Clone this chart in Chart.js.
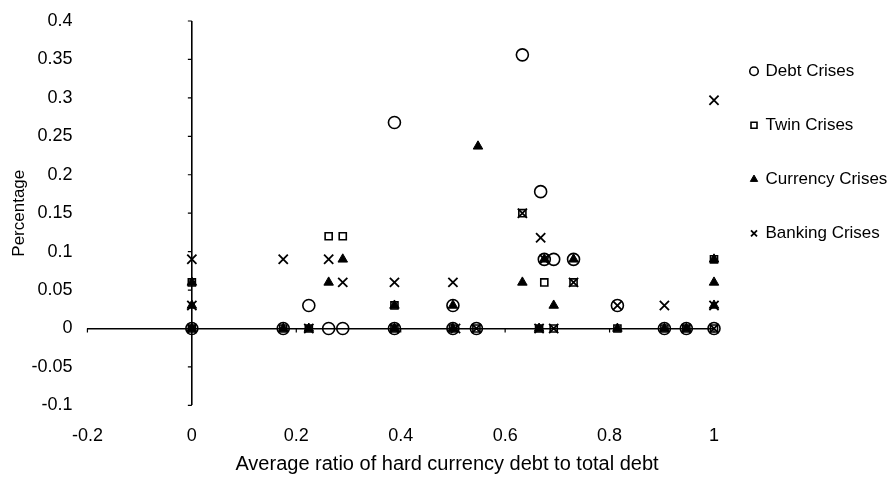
<!DOCTYPE html>
<html>
<head>
<meta charset="utf-8">
<title>Crises by hard currency debt ratio</title>
<script src="https://cdn.jsdelivr.net/npm/chart.js@4.4.1/dist/chart.umd.min.js"></script>
<style>
    body { margin: 0; background: #fff; }
    #wrap { width: 894px; height: 481px; }
</style>
</head>
<body>
<div id="wrap"><canvas id="crisesChart" width="894" height="481"></canvas></div>
<script>
// Data (x = average ratio of hard currency debt, y = share)
const debtX = [0, 0.175, 0.224, 0.262, 0.289, 0.388, 0.388, 0.50, 0.50, 0.545, 0.633, 0.668, 0.675, 0.693, 0.731, 0.815, 0.905, 0.947, 1.0];
const debtY = [0, 0, 0.03, 0, 0, 0.268, 0, 0.03, 0, 0, 0.356, 0.178, 0.09, 0.09, 0.09, 0.03, 0, 0, 0];

const twinX = [0, 0, 0.175, 0.224, 0.262, 0.289, 0.388, 0.388, 0.50, 0.545, 0.633, 0.675, 0.665, 0.693, 0.731, 0.815, 0.905, 0.947, 1.0, 1.0];
const twinY = [0.06, 0, 0, 0, 0.12, 0.12, 0.03, 0, 0, 0, 0.15, 0.06, 0, 0, 0.06, 0, 0, 0, 0.09, 0];

const currencyX = [0, 0, 0, 0.175, 0.224, 0.262, 0.289, 0.388, 0.388, 0.50, 0.50, 0.548, 0.633, 0.675, 0.665, 0.693, 0.731, 0.815, 0.905, 0.947, 1.0, 1.0, 1.0];
const currencyY = [0.06, 0.03, 0, 0, 0, 0.06, 0.09, 0.03, 0, 0.03, 0, 0.237, 0.06, 0.09, 0, 0.03, 0.09, 0, 0, 0, 0.09, 0.06, 0.03];

const bankingX = [0, 0, 0, 0.175, 0.224, 0.262, 0.289, 0.388, 0.388, 0.50, 0.505, 0.545, 0.633, 0.668, 0.675, 0.665, 0.693, 0.731, 0.815, 0.905, 0.947, 1.0, 1.0, 1.0];
const bankingY = [0.09, 0.03, 0, 0.09, 0, 0.09, 0.06, 0.06, 0, 0.06, 0, 0, 0.15, 0.118, 0.09, 0, 0, 0.06, 0.03, 0.03, 0, 0.297, 0.03, 0];

const seriesNames = ['Debt Crises', 'Twin Crises', 'Currency Crises', 'Banking Crises'];

// Axis ticks
const xTicks = [-0.2, 0, 0.2, 0.4, 0.6, 0.8, 1];
const yTicks = [-0.1, -0.05, 0, 0.05, 0.1, 0.15, 0.2, 0.25, 0.3, 0.35, 0.4];

// Pair up x / y lists for the scatter controller
function toPoints(xs, ys) {
    return xs.map((x, i) => ({ x: x, y: ys[i] }));
}

// Small tick marks sitting on the crossing axes
const axisTicks = {
    id: 'axisTicks',
    afterDatasetsDraw(chart) {
        const ctx = chart.ctx;
        const xs = chart.scales.x;
        const ys = chart.scales.y;
        const x0 = xs.getPixelForValue(0);
        const y0 = ys.getPixelForValue(0);
        ctx.save();
        ctx.strokeStyle = '#000';
        ctx.lineWidth = 1.2;
        ctx.beginPath();
        xTicks.forEach(v => {
            const px = xs.getPixelForValue(v);
            ctx.moveTo(px, y0);
            ctx.lineTo(px, y0 + 4);
        });
        yTicks.forEach(v => {
            const py = ys.getPixelForValue(v);
            ctx.moveTo(x0 - 4, py);
            ctx.lineTo(x0, py);
        });
        ctx.stroke();
        ctx.restore();
    }
};

// only the zero lines are drawn, they act as the crossing axes
const zeroLine = c => (c.tick && c.tick.value === 0 ? '#000' : 'rgba(0,0,0,0)');

Chart.defaults.font.family = "'Liberation Sans', Arial, Helvetica, sans-serif";
Chart.defaults.color = '#000';

const ctx = document.getElementById('crisesChart').getContext('2d');

const chartData = {
    datasets: [
        {
            label: seriesNames[0],
            data: toPoints(debtX, debtY),
            pointStyle: 'circle',
            pointRadius: 6,
            borderWidth: 1.6,
            borderColor: '#000',
            backgroundColor: 'rgba(0,0,0,0)',
            clip: false
        },
        {
            label: seriesNames[1],
            data: toPoints(twinX, twinY),
            pointStyle: 'rect',
            pointRadius: 5,
            borderWidth: 1.6,
            borderColor: '#000',
            backgroundColor: 'rgba(0,0,0,0)',
            clip: false
        },
        {
            label: seriesNames[2],
            data: toPoints(currencyX, currencyY),
            pointStyle: 'triangle',
            pointRadius: 5.5,
            borderWidth: 1,
            borderColor: '#000',
            backgroundColor: '#000',
            clip: false
        },
        {
            label: seriesNames[3],
            data: toPoints(bankingX, bankingY),
            pointStyle: 'crossRot',
            pointRadius: 6.5,
            borderWidth: 1.8,
            borderColor: '#000',
            backgroundColor: '#000',
            clip: false
        }
    ]
};

const config = {
    type: 'scatter',
    data: chartData,
    options: {
        responsive: false,
        animation: false,
        events: [],
        layout: {
            autoPadding: false,
            padding: { top: 21, left: 0, right: 0, bottom: 0 }
        },
        plugins: {
            legend: {
                position: 'right',
                align: 'start',
                fullSize: false,
                maxWidth: 180,
                title: {
                    display: true,
                    text: '',
                    padding: 0,
                    font: { size: 4 }
                },
                labels: {
                    usePointStyle: true,
                    boxWidth: 6,
                    boxHeight: 6,
                    padding: 37,
                    color: '#000',
                    font: { size: 17 }
                }
            },
            title: {
                display: true,
                position: 'bottom',
                text: 'Average ratio of hard currency debt to total debt',
                color: '#000',
                font: { size: 20, weight: 'normal' },
                padding: { top: 5, bottom: 5 }
            },
            tooltip: { enabled: false }
        },
        scales: {
            x: {
                type: 'linear',
                min: -0.2,
                max: 1,
                afterBuildTicks: scale => {
                    scale.ticks = xTicks.map(v => ({ value: v }));
                },
                border: { display: false },
                grid: {
                    drawTicks: true,
                    tickLength: 20,
                    tickColor: 'rgba(0,0,0,0)',
                    lineWidth: 1.6,
                    color: zeroLine
                },
                ticks: {
                    padding: 0,
                    maxRotation: 0,
                    color: '#000',
                    font: { size: 18 },
                    callback: value => String(value)
                }
            },
            y: {
                type: 'linear',
                min: -0.1,
                max: 0.4,
                afterBuildTicks: scale => {
                    scale.ticks = yTicks.map(v => ({ value: v }));
                },
                border: { display: false },
                grid: {
                    drawTicks: true,
                    tickLength: 15,
                    tickColor: 'rgba(0,0,0,0)',
                    lineWidth: 1.6,
                    color: zeroLine
                },
                ticks: {
                    padding: 0,
                    color: '#000',
                    font: { size: 18 },
                    callback: value => String(value)
                },
                title: {
                    display: true,
                    text: 'Percentage',
                    color: '#000',
                    font: { size: 17 },
                    padding: { top: 9, bottom: 2 }
                }
            }
        }
    },
    plugins: [axisTicks]
};

new Chart(ctx, config);
</script>
</body>
</html>
